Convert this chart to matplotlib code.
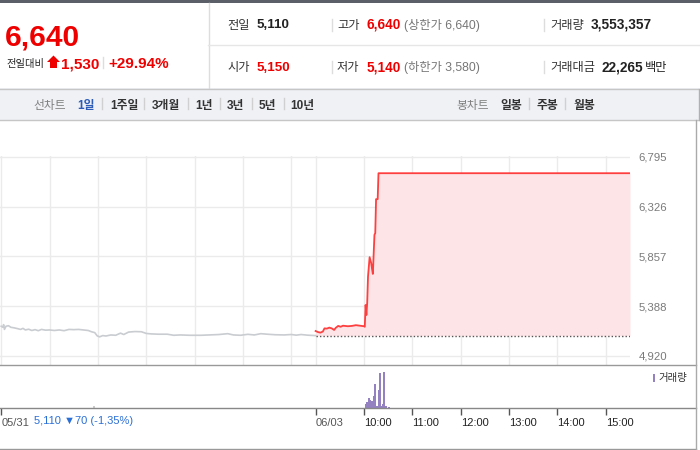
import matplotlib
matplotlib.use('Agg')
import matplotlib.pyplot as plt
from matplotlib.patches import Rectangle, Polygon
from matplotlib.lines import Line2D

plt.rcParams['font.family'] = ['Liberation Sans', 'Noto Sans CJK KR', 'DejaVu Sans']

# ---------------- data ----------------
SESSION = 390  # minutes per trading session (09:00-15:30)

prev_minutes = [0, 2, 3, 4, 6, 9, 12, 16, 20, 24, 27, 30, 34, 38, 42, 46, 50, 55, 60, 66,
                72, 78, 84, 90, 96, 102, 108, 112, 116, 119, 122, 126, 130, 136, 142, 148,
                152, 158, 166, 174, 180, 186, 195, 206, 214, 222, 234, 248, 258, 270, 281,
                288, 297, 306, 314, 322, 330, 340, 351, 360, 366, 372, 380, 390]
prev_prices = [5200, 5190, 5215, 5170, 5200, 5205, 5190, 5185, 5178, 5170, 5180, 5165, 5172,
               5160, 5168, 5158, 5170, 5163, 5165, 5160, 5165, 5158, 5170, 5168, 5170, 5165,
               5160, 5148, 5140, 5110, 5100, 5112, 5108, 5118, 5115, 5135, 5122, 5145, 5150,
               5148, 5132, 5128, 5125, 5125, 5115, 5118, 5115, 5115, 5118, 5122, 5130, 5118,
               5115, 5124, 5118, 5130, 5125, 5120, 5118, 5122, 5116, 5122, 5116, 5112]

today_minutes = [0, 3, 6, 9, 11, 14, 17, 20, 23, 25, 28, 31, 34, 40, 45, 50, 55, 60, 61,
                 62, 63, 64, 65, 67, 69, 70, 71, 73, 74, 75, 77, 78, 390]
today_prices = [5155, 5145, 5140, 5150, 5180, 5178, 5187, 5180, 5165, 5185, 5203, 5195, 5205,
                5200, 5203, 5210, 5205, 5200, 5195, 5400, 5306, 5420, 5667, 5850, 5793, 5740,
                5692, 6060, 6076, 6396, 6396, 6640, 6640]
prev_close = 5110

vol_minutes = [62, 64, 66, 68, 69, 70, 72, 73, 74, 76, 78, 80, 81, 83, 85, 87, 88, 91]
vol_values = [65000, 106000, 182000, 136000, 124000, 124000, 212000, 401000, 430000, 35000,
              324000, 619000, 35000, 65000, 631000, 30000, 18000, 18000]
prev_vol_minutes = [115]
prev_vol_values = [44000]

price_ticks = [4920, 5388, 5857, 6326, 6795]
price_tick_labels = ['4,920', '5,388', '5,857', '6,326', '6,795']
time_tick_labels = ['05/31', '06/03', '10:00', '11:00', '12:00', '13:00', '14:00', '15:00']

# ---------------- figure helpers ----------------
W, H = 700, 450
fig = plt.figure(figsize=(7, 4.5), dpi=100)
fig.patch.set_facecolor('white')


def fx(x):
    return x / W


def fy(y):
    return 1 - y / H


def hline(y, x0, x1, color, lw=1.0):
    fig.add_artist(Line2D([fx(x0), fx(x1)], [fy(y), fy(y)], color=color, lw=lw))


def vline(x, y0, y1, color, lw=1.0):
    fig.add_artist(Line2D([fx(x), fx(x)], [fy(y0), fy(y1)], color=color, lw=lw))


def txt(x, y, s, size, color='#222222', weight='normal', ha='left'):
    # y is the text baseline in pixels from the top
    fig.text(fx(x), fy(y), s, fontsize=size, color=color, fontweight=weight,
             ha=ha, va='baseline')


RED = '#ee0000'
DARK = '#222222'
GRAY = '#777777'

# ---------------- header ----------------
fig.add_artist(Rectangle((0, fy(3)), 1, 3 / H, facecolor='#5b6068', edgecolor='none'))
vline(208.5, 3, 88, '#dddddd')
hline(45, 208, 700, '#e6e6e6')

txt(5, 46, '6,640', 21.5, RED, 'bold')
txt(6, 67.5, '전일대비', 7.4, DARK)
fig.add_artist(Polygon([(fx(47), fy(62)), (fx(53.5), fy(55.5)), (fx(60), fy(62)),
                        (fx(57), fy(62)), (fx(57), fy(68)), (fx(50), fy(68)),
                        (fx(50), fy(62))], closed=True, facecolor=RED, edgecolor='none'))
txt(60.5, 68.3, '1,530', 11, RED, 'bold')
vline(103, 57, 68, '#dddddd')
txt(108.5, 68.3, '+29.94%', 11, RED, 'bold')

# row 1
B1 = 28.5
txt(227, B1, '전일', 8.8, '#333333')
txt(257, B1, '5,110', 9.6, DARK, 'bold')
vline(331.5, 19, 31, '#dddddd')
txt(337, B1, '고가', 8.8, '#333333')
txt(366.5, B1, '6,640', 9.8, RED, 'bold')
txt(404, B1, '(상한가 6,640)', 8.8, GRAY)
vline(544, 19, 31, '#dddddd')
txt(550, B1, '거래량', 8.8, '#333333')
txt(591, B1, '3,553,357', 9.8, DARK, 'bold')

# row 2
B2 = 71
txt(227, B2, '시가', 8.8, '#333333')
txt(257, B2, '5,150', 9.6, RED, 'bold')
vline(331.5, 61, 73, '#dddddd')
txt(337, B2, '저가', 8.8, '#333333')
txt(366.5, B2, '5,140', 9.8, RED, 'bold')
txt(404, B2, '(하한가 3,580)', 8.8, GRAY)
vline(544, 61, 73, '#dddddd')
txt(550, B2, '거래대금', 8.8, '#333333')
txt(602, B2, '22,265', 9.8, DARK, 'bold')
txt(645, B2, '백만', 8.8, DARK)

# ---------------- toolbar ----------------
fig.add_artist(Rectangle((fx(0), fy(119.5)), fx(699) - fx(0), 31.5 / H,
                         facecolor='#eff1f5', edgecolor='none'))
hline(88.5, 0, 699, '#c6c6c6')
hline(119.5, 0, 699, '#c6c6c6')
vline(699, 88.5, 119.5, '#b0b0b0')

TB = 108.5
txt(33, TB, '선차트', 8.5, '#808080')
txt(77, TB, '1일', 8.5, '#2c5cb8', 'bold')
txt(110, TB, '1주일', 8.5, '#333333', 'bold')
txt(152, TB, '3개월', 8.5, '#333333', 'bold')
txt(195, TB, '1년', 8.5, '#333333', 'bold')
txt(227, TB, '3년', 8.5, '#333333', 'bold')
txt(259, TB, '5년', 8.5, '#333333', 'bold')
txt(290, TB, '10년', 8.5, '#333333', 'bold')
for sx in [101.7, 144, 187.7, 220, 251.7, 284]:
    vline(sx, 98, 109, '#d0d0d0')
txt(456, TB, '봉차트', 8.5, '#808080')
txt(500.5, TB, '일봉', 8.5, '#333333', 'bold')
txt(536.5, TB, '주봉', 8.5, '#333333', 'bold')
txt(573, TB, '월봉', 8.5, '#333333', 'bold')
for sx in [529, 565]:
    vline(sx, 98, 109, '#d0d0d0')

# ---------------- price chart ----------------
XMIN, XMAX = -1.5, 2 * SESSION
ax = fig.add_axes([fx(0), fy(365), fx(630), (365 - 156) / H])
ax.set_xlim(XMIN, XMAX)
ax.set_ylim(4835.2, 6802.0)
for s in ax.spines.values():
    s.set_visible(False)
grid_x = [m for m in range(0, SESSION, 60)] + [SESSION + m for m in range(0, SESSION, 60)]
ax.set_xticks(grid_x)
ax.set_xticklabels([])
ax.tick_params(axis='x', length=0)
ax.set_yticks(price_ticks)
ax.set_yticklabels(price_tick_labels)
ax.yaxis.tick_right()
ax.tick_params(axis='y', length=0, pad=6.3, labelsize=8.2, labelcolor='#7a7a7a')
for lab in ax.get_yticklabels():
    lab.set_horizontalalignment('left')
ax.grid(True, color='#ebebeb', lw=1.0)
ax.set_axisbelow(True)

ax.plot(prev_minutes, prev_prices, color='#c9ccd0', lw=1.2, zorder=3)
tx = [SESSION + m for m in today_minutes]
ax.fill_between(tx, today_prices, prev_close, color='#fde4e6', lw=0, zorder=2)
ax.plot([SESSION, XMAX], [prev_close, prev_close], color='#555555', lw=1.0,
        linestyle=(0, (1, 1.5)), zorder=3)
ax.plot(tx, today_prices, color='#ff2b2b', lw=1.3, alpha=0.9, zorder=4)

# ---------------- volume chart ----------------
axv = fig.add_axes([fx(0), fy(408), fx(630), (408 - 365) / H])
axv.set_xlim(XMIN, XMAX)
axv.set_ylim(0, 760000)
axv.patch.set_alpha(0)
for s in axv.spines.values():
    s.set_visible(False)
axv.set_yticks([])
axv.bar([SESSION + m for m in vol_minutes], vol_values, width=2.0, color='#9481c2', lw=0)
axv.bar(prev_vol_minutes, prev_vol_values, width=1.6, color='#cccccc', lw=0)
axv.set_xticks([0, SESSION] + [SESSION + 60 * k for k in range(1, 7)])
axv.set_xticklabels(time_tick_labels)
axv.tick_params(axis='x', length=5, width=1, color='#555555', pad=2.5, labelsize=8,
                labelcolor='#222222')
for i, lab in enumerate(axv.get_xticklabels()):
    lab.set_horizontalalignment('left')
    if i < 2:
        lab.set_color('#555555')

fig.text(fx(34), fy(421.5), '5,110 ▼70 (-1,35%)', fontsize=8, color='#2a6fd6',
         ha='left', va='center')

fig.add_artist(Rectangle((fx(652.7), fy(381.7)), 2.7 / W, 7.7 / H,
                         facecolor='#9481c2', edgecolor='none'))
fig.text(fx(658), fy(378), '거래량', fontsize=7.5, color='#333333', ha='left', va='center')

# frame lines
hline(365, 0, 696, '#999999')
hline(408, 0, 696, '#888888')
hline(449, 0, 696, '#999999')
vline(696, 120, 449, '#aaaaaa')

fig.savefig('out.png', dpi=100)
